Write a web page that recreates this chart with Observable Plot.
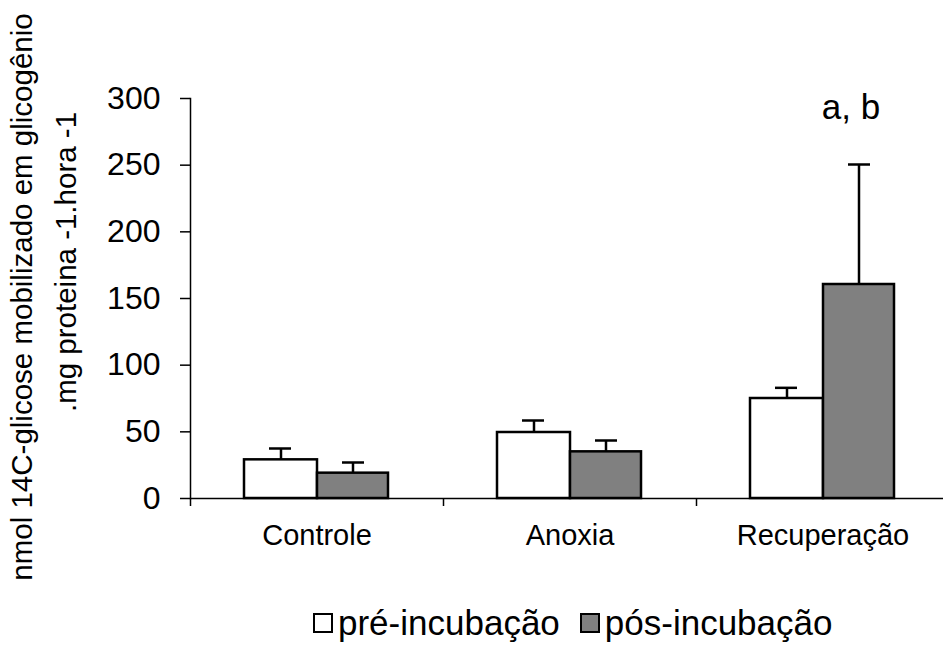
<!DOCTYPE html>
<html>
<head>
<meta charset="utf-8">
<script src="https://cdn.jsdelivr.net/npm/d3@7"></script>
<script src="https://cdn.jsdelivr.net/npm/@observablehq/plot@0.6"></script>
<style>
  html, body { margin: 0; padding: 0; background: #fff; }
  #wrap { position: relative; width: 943px; height: 654px; font-family: "Liberation Sans", Arial, sans-serif; }
  #legend { position: absolute; left: 313px; top: 603px; display: flex; align-items: center; font-size: 35px; line-height: 40px; color: #000; white-space: nowrap; }
  .sw { width: 20px; height: 20px; border: 2px solid #000; margin-right: 5px; box-sizing: border-box; }
</style>
</head>
<body>
<div id="wrap">
  <div id="chart"></div>
  <div id="legend"></div>
</div>
<script>
const categories = ["Controle", "Anoxia", "Recuperação"];
const seriesNames = ["pré-incubação", "pós-incubação"];
const preValues = [29, 49.5, 75];
const preErrors = [8.5, 9, 8];
const postValues = [19, 35, 160.5];
const postErrors = [8, 8.5, 90];
const yTicks = [0, 50, 100, 150, 200, 250, 300];
const seriesColors = ["#ffffff", "#808080"];
const yTitleLine1 = "nmol 14C-glicose mobilizado em glicogênio";
const yTitleLine2 = ".mg proteina -1.hora -1";
const annotations = [{cat: "Recuperação", label: "a, b"}];

const pre = categories.map((c, i) => ({cat: c, value: preValues[i], hi: preValues[i] + preErrors[i]}));
const post = categories.map((c, i) => ({cat: c, value: postValues[i], hi: postValues[i] + postErrors[i]}));

const font = "'Liberation Sans', Arial, sans-serif";
const sw = 2.5;

const chart = Plot.plot({
  width: 943,
  height: 590,
  marginLeft: 190,
  marginTop: 98,
  marginBottom: 92,
  marginRight: -6,
  style: {fontFamily: font, color: "#000", background: "#fff", overflow: "visible"},
  x: {domain: categories, type: "band", padding: 0},
  y: {domain: [0, 300]},
  marks: [
    Plot.barY(pre, {x: "cat", y: "value", fill: seriesColors[0], stroke: "#000", strokeWidth: sw, insetLeft: 54, insetRight: 126}),
    Plot.barY(post, {x: "cat", y: "value", fill: seriesColors[1], stroke: "#000", strokeWidth: sw, insetLeft: 127, insetRight: 55}),
    Plot.ruleX(pre, {x: "cat", y1: "value", y2: "hi", dx: -36, stroke: "#000", strokeWidth: sw}),
    Plot.ruleX(post, {x: "cat", y1: "value", y2: "hi", dx: 36, stroke: "#000", strokeWidth: sw}),
    Plot.tickY(pre, {x: "cat", y: "hi", insetLeft: 79, insetRight: 152, stroke: "#000", strokeWidth: sw}),
    Plot.tickY(post, {x: "cat", y: "hi", insetLeft: 152, insetRight: 79, stroke: "#000", strokeWidth: sw}),
    Plot.ruleY([0], {stroke: "#000", strokeWidth: 1.5}),
    Plot.frame({anchor: "left", stroke: "#000", strokeWidth: 1.5}),
    Plot.axisY({ticks: yTicks, tickSize: 10, tickPadding: 20, fontSize: 32, label: null, strokeWidth: 1.5}),
    Plot.axisX({tickSize: 8, text: null, label: null, dx: -126.5, strokeWidth: 1.5}),
    Plot.axisX({tickSize: 0, tickPadding: 26, fontSize: 29, label: null}),
    Plot.text(annotations, {x: "cat", text: "label", frameAnchor: "top", dx: 28, dy: -4, fontSize: 35}),
    Plot.text([yTitleLine1], {frameAnchor: "left", textAnchor: "middle", lineAnchor: "middle", rotate: -90, dx: -168, dy: -1.5, fontSize: 29.5}),
    Plot.text([yTitleLine2], {frameAnchor: "left", textAnchor: "middle", lineAnchor: "middle", rotate: -90, dx: -124, dy: -36.5, fontSize: 29.5, letterSpacing: "2.2px"})
  ]
});
document.getElementById("chart").appendChild(chart);

const legend = document.getElementById("legend");
seriesNames.forEach((name, i) => {
  const box = document.createElement("span");
  box.className = "sw";
  box.style.background = seriesColors[i];
  legend.appendChild(box);
  const t = document.createElement("span");
  t.textContent = name;
  t.style.marginRight = i === 0 ? "20px" : "0";
  legend.appendChild(t);
});
</script>
</body>
</html>
